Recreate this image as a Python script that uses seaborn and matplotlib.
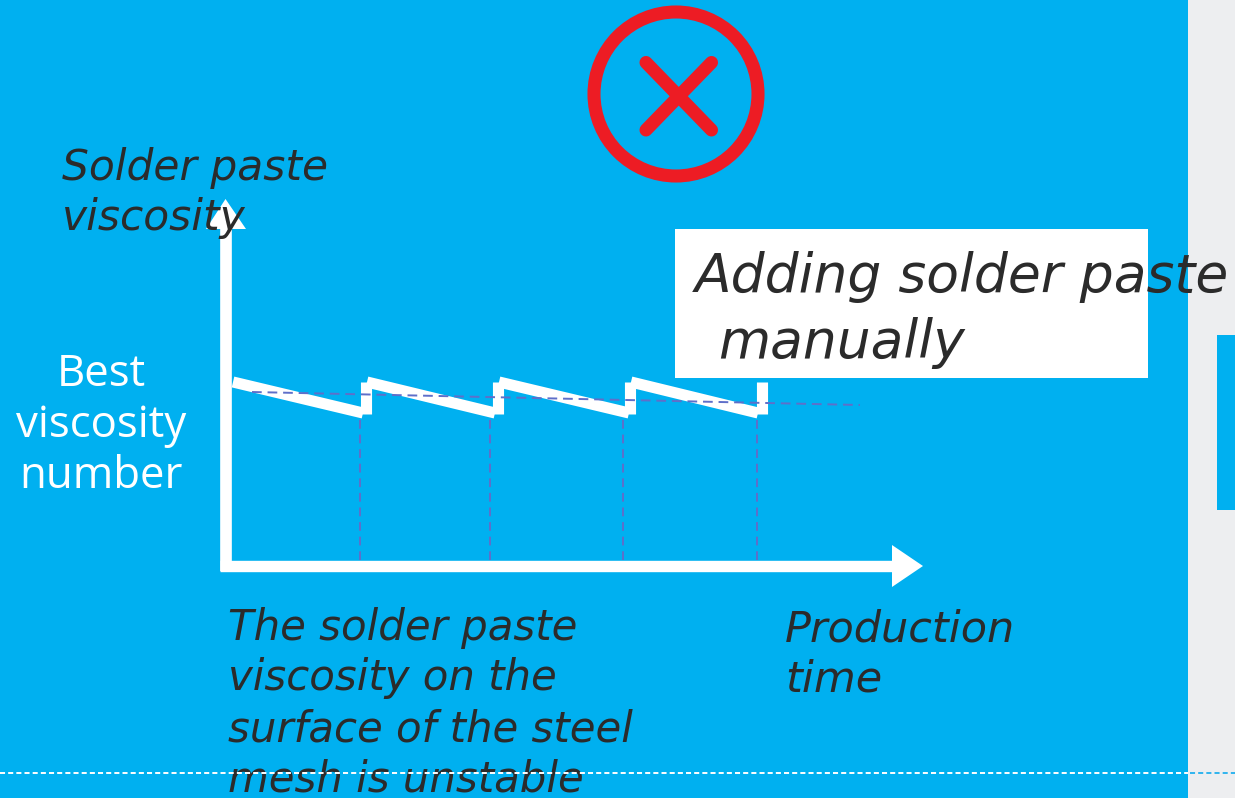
import matplotlib
matplotlib.use("Agg")
import matplotlib.pyplot as plt
import pandas as pd
import seaborn as sns

sns.set_theme(style="white")
plt.rcParams['font.family'] = ['Open Sans', 'DejaVu Sans']

BLUE = "#00B0F0"
INK = "#2B2B2B"
DASH = "#5F6FC9"
RED = "#ED1C24"

# Data, read in chart units (time along the axis, viscosity above the axis)
tooth_start_time = [7, 141, 273, 405]
tooth_end_time = [137, 269, 403, 532]
tooth_high = [183, 183, 183, 183]
tooth_low = [152, 152, 152, 152]
jump_time = [139.5, 271.5, 403.5, 536]
jump_low = [151, 151, 151, 151]
jump_high = [183, 183, 183, 183]
best_time = [26, 634]
best_viscosity = [173, 160]
refill_times = [134, 264, 397, 531]
refill_top = [149, 149, 149, 149]

y_axis_name = ["Solder paste", "viscosity"]
x_axis_name = ["Production", "time"]
best_label = ["Best", "viscosity", "number"]
problem_text = ["The solder paste", "viscosity on the",
                "surface of the steel", "mesh is unstable"]
callout_text = ["Adding solder paste", "manually"]

W, H = 1235, 798
fig = plt.figure(figsize=(W / 100, H / 100), dpi=100, facecolor=BLUE)

# Full-figure page layer, in pixels
page = fig.add_axes([0, 0, 1, 1], zorder=0)
page.set_xlim(0, W)
page.set_ylim(H, 0)
page.axis("off")
page.add_patch(plt.Rectangle((0, 0), 1188, H, color=BLUE, lw=0))
page.add_patch(plt.Rectangle((1188, 0), 47, H, color="#EDEEF0", lw=0))
page.add_patch(plt.Rectangle((1217, 335), 18, 175, color=BLUE, lw=0))
page.add_patch(plt.Rectangle((675, 229), 473, 149, color="white", lw=0))

# Red cross icon
page.add_patch(plt.Circle((676, 94), 82, fill=False, ec=RED, lw=9.4))
page.plot([646, 711.5], [62.5, 130], color=RED, lw=9.4, solid_capstyle="round")
page.plot([711.5, 646], [62.5, 130], color=RED, lw=9.4, solid_capstyle="round")

# Chart axes: origin at pixel (226, 565)
x0, y0 = 226, 565
ax_w, ax_h = 720, 400
ax = fig.add_axes([x0 / W, 1 - y0 / H, ax_w / W, ax_h / H], zorder=1)
ax.set_xlim(0, ax_w)
ax.set_ylim(0, ax_h)
ax.patch.set_alpha(0)
ax.axis("off")

for t, top_v in zip(refill_times, refill_top):
    ax.plot([t, t], [5, top_v], color=DASH, lw=1.4, ls=(0, (4.5, 3)), zorder=2)

rows = []
for i, (a, b, hi, lo) in enumerate(zip(tooth_start_time, tooth_end_time, tooth_high, tooth_low)):
    rows += [dict(seg=f"t{i}", t=a, v=hi), dict(seg=f"t{i}", t=b, v=lo)]
for i, (a, lo, hi) in enumerate(zip(jump_time, jump_low, jump_high)):
    rows += [dict(seg=f"j{i}", t=a, v=lo), dict(seg=f"j{i}", t=a, v=hi)]
sns.lineplot(data=pd.DataFrame(rows), x="t", y="v", units="seg", estimator=None, sort=False,
             ax=ax, color="white", linewidth=8, solid_capstyle="butt", zorder=3, legend=False)

sns.lineplot(data=pd.DataFrame({"t": best_time, "v": best_viscosity}), x="t", y="v",
             ax=ax, color=DASH, linewidth=1.4, estimator=None, sort=False,
             linestyle=(0, (5, 3)), zorder=4, legend=False)
ax.set_xlabel("")
ax.set_ylabel("")

# Overlay so arrows and text sit above the chart
top = fig.add_axes([0, 0, 1, 1], zorder=5)
top.set_xlim(0, W)
top.set_ylim(H, 0)
top.axis("off")
top.patch.set_alpha(0)

top.plot([225.5, 225.5], [571, 225], color="white", lw=8.4, solid_capstyle="butt", zorder=3)
top.plot([220, 895], [565.5, 565.5], color="white", lw=8.2, solid_capstyle="butt", zorder=3)
top.add_patch(plt.Polygon([[206, 229], [246, 229], [225.5, 199]], color="white", lw=0, zorder=3))
top.add_patch(plt.Polygon([[892, 545], [892, 587], [923, 566]], color="white", lw=0, zorder=3))

hand = dict(family=["DejaVu Sans"], style="oblique", color=INK, zorder=6)


def put(ax_, lines, xs, baselines, size, **kw):
    for s, x, b in zip(lines, xs, baselines):
        ax_.text(x, b, s, fontsize=size, ha="left", va="baseline", **kw)


put(top, y_axis_name, [62, 62], [180, 230], 30.5, **hand)
put(top, x_axis_name, [785, 785], [642, 692], 31, **hand)
put(top, problem_text, [228, 228, 228, 228], [640, 690, 741, 791], 30.2, **hand)
put(top, callout_text, [695, 718], [292, 358], 38.5, **hand)

for s, b in zip(best_label, [386, 437, 488]):
    top.text(101, b, s, fontsize=31.5, color="white", ha="center", va="baseline",
             family=["Open Sans", "DejaVu Sans"], zorder=6)

# Dashed page rule passes over the text
top.plot([0, 1188], [773, 773], color="white", lw=1.4, dashes=(2.6, 1.6), zorder=7)
top.plot([1190, 1235], [773, 773], color="#2FB4EE", lw=1.4, dashes=(2.6, 1.6), zorder=7)

fig.savefig("out.png", dpi=100, facecolor=BLUE)
